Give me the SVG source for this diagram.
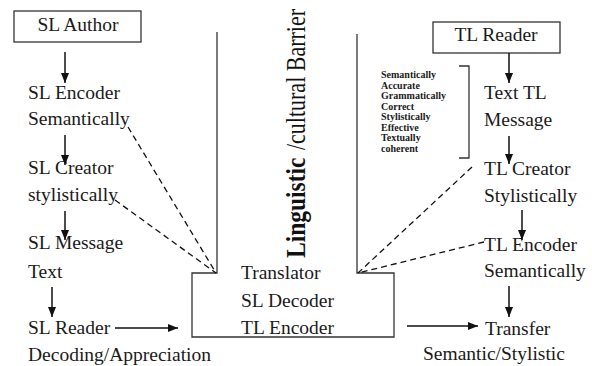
<svg xmlns="http://www.w3.org/2000/svg" width="592" height="366" viewBox="0 0 592 366">
<defs>
<marker id="ah" markerUnits="userSpaceOnUse" markerWidth="10" markerHeight="8" refX="10" refY="4" orient="auto">
<path d="M0,0 L10,4 L0,8 z" fill="#111"/>
</marker>
<style>
.t{font-family:"Liberation Serif","Times New Roman",serif;font-size:19.5px;fill:#1a1a1a}
.s{font-family:"Liberation Serif","Times New Roman",serif;font-size:10px;font-weight:bold;fill:#1a1a1a}
.b{font-family:"Liberation Serif","Times New Roman",serif;fill:#111}
.box{fill:none;stroke:#333;stroke-width:1.3}
.arr{stroke:#111;stroke-width:1.5;fill:none;marker-end:url(#ah)}
.dash{stroke:#111;stroke-width:1.3;fill:none;stroke-dasharray:6,4}
</style>
</defs>
<rect width="592" height="366" fill="#fff"/>

<g id="sl-author">
<rect class="box" x="14" y="11" width="127" height="31"/>
<text class="t" x="78" y="31" text-anchor="middle">SL Author</text>
</g>
<g id="sl-encoder">
<text class="t" x="28" y="99">SL Encoder</text>
<text class="t" x="28" y="125">Semantically</text>
</g>
<g id="sl-creator">
<text class="t" x="28" y="174">SL Creator</text>
<text class="t" x="28" y="201">stylistically</text>
</g>
<g id="sl-message">
<text class="t" x="28" y="249">SL Message</text>
<text class="t" x="28" y="278">Text</text>
</g>
<g id="sl-reader">
<text class="t" x="28" y="334">SL Reader</text>
<text class="t" x="28" y="361">Decoding/Appreciation</text>
</g>

<g id="translator">
<polyline class="box" points="217,32 217,273 192,273 192,337 394,337 394,273 357,273 357,34"/>
<text class="t" x="241" y="279">Translator</text>
<text class="t" x="241" y="307">SL Decoder</text>
<text class="t" x="241" y="334">TL Encoder</text>
</g>

<g id="barrier">
<text class="b" transform="translate(305,258) rotate(-90) scale(1,1.15)" font-size="23.5" font-weight="bold">Linguistic</text>
<text class="b" transform="translate(305,150) rotate(-90) scale(1,1.22)" font-size="22">/cultural Barrier</text>
</g>

<g id="tl-reader">
<rect class="box" x="433" y="22" width="127" height="31"/>
<text class="t" x="496" y="41" text-anchor="middle">TL Reader</text>
</g>
<g id="qualities">
<path class="box" d="M459,66 L469,66 L469,158 L459,158"/>
<text class="s" x="381" y="78">Semantically</text>
<text class="s" x="381" y="88.5">Accurate</text>
<text class="s" x="381" y="99">Grammatically</text>
<text class="s" x="381" y="109.5">Correct</text>
<text class="s" x="381" y="120">Stylistically</text>
<text class="s" x="381" y="130.5">Effective</text>
<text class="s" x="381" y="141">Textually</text>
<text class="s" x="381" y="151.5">coherent</text>
</g>
<g id="tl-message">
<text class="t" x="484" y="99">Text TL</text>
<text class="t" x="484" y="126">Message</text>
</g>
<g id="tl-creator">
<text class="t" x="484" y="175">TL Creator</text>
<text class="t" x="484" y="202">Stylistically</text>
</g>
<g id="tl-encoder">
<text class="t" x="484" y="251">TL Encoder</text>
<text class="t" x="484" y="277">Semantically</text>
</g>
<g id="transfer">
<text class="t" x="485" y="335">Transfer</text>
<text class="t" x="423" y="360">Semantic/Stylistic</text>
</g>

<g id="connectors">
<line class="arr" x1="65" y1="52" x2="65" y2="83"/>
<line class="arr" x1="65" y1="135" x2="65" y2="165"/>
<line class="arr" x1="65" y1="211" x2="65" y2="240"/>
<line class="arr" x1="52" y1="287" x2="52" y2="317"/>
<line class="arr" x1="115" y1="328" x2="178" y2="328"/>
<line class="arr" x1="509" y1="53" x2="509" y2="83"/>
<line class="arr" x1="509" y1="136" x2="509" y2="164"/>
<line class="arr" x1="522" y1="210" x2="522" y2="240"/>
<line class="arr" x1="509" y1="286" x2="509" y2="317"/>
<line class="arr" x1="407" y1="326" x2="478" y2="326"/>
<line class="dash" x1="128" y1="127" x2="216" y2="273"/>
<line class="dash" x1="115" y1="200" x2="216" y2="273"/>
<line class="dash" x1="472" y1="167" x2="358" y2="273"/>
<line class="dash" x1="484" y1="242" x2="358" y2="273"/>
</g>
</svg>
